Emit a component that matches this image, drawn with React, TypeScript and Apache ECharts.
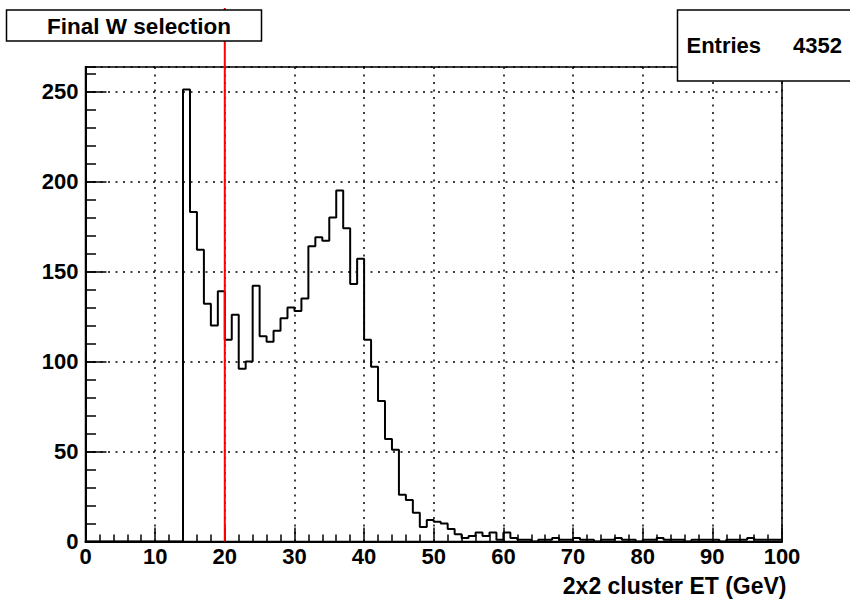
import React, { useEffect, useRef } from "react";
import * as echarts from "echarts";

// ---- data ----
const xMin = 0;
const xMax = 100;
const binWidth = 1;
const counts: number[] = [
  0, 0, 0, 0, 0, 0, 0, 0, 0, 0,
  0, 0, 0, 0, 251, 183, 162, 132, 120, 139,
  112, 126, 96, 100, 142, 114, 111, 117, 124, 130,
  128, 135, 164, 169, 167, 180, 195, 174, 143, 157,
  112, 97, 78, 57, 51, 26, 23, 16, 8, 12,
  11, 10, 7, 4, 2, 3, 5, 3, 5, 1,
  5, 2, 1, 1, 0, 1, 1, 2, 1, 1,
  2, 1, 1, 0, 1, 1, 2, 1, 1, 0,
  1, 1, 2, 1, 1, 1, 0, 1, 1, 1,
  1, 0, 1, 1, 1, 2, 1, 1, 1, 1,
];
const yMajorTicks = [0, 50, 100, 150, 200, 250];
const xMajorTicks = [0, 10, 20, 30, 40, 50, 60, 70, 80, 90, 100];
const cutValue = 20;
const titleText = "Final W selection";
const xTitle = "2x2 cluster ET (GeV)";
const statsLabel = "Entries";
const statsValue = "4352";

const FONT = '"Liberation Sans", Arial, Helvetica, sans-serif';

export default function App() {
  const ref = useRef<HTMLDivElement>(null);

  useEffect(() => {
    if (!ref.current) return;
    const chart = echarts.init(ref.current, undefined, { renderer: "svg" });

    const maxCount = Math.max(...counts);
    const yMax = maxCount * 1.05;

    const stepData: [number, number][] = counts.map((c, i) => [xMin + i * binWidth, c]);
    stepData.push([xMax, counts[counts.length - 1]]);

    const labelStyle = {
      color: "#000",
      fontFamily: FONT,
      fontWeight: "bold" as const,
      fontSize: 22,
    };

    const option: any = {
      animation: false,
      backgroundColor: "#fff",
      grid: {
        left: 85.5,
        top: 67,
        width: 696.5,
        height: 474.5,
        show: true,
        borderColor: "#000",
        borderWidth: 1.5,
        backgroundColor: "transparent",
        containLabel: false,
      },
      xAxis: {
        type: "value",
        min: xMin,
        max: xMax,
        interval: 10,
        axisLine: { show: true, lineStyle: { color: "#000", width: 2 } },
        axisTick: { show: true, inside: true, length: 14, lineStyle: { color: "#000", width: 1.5 } },
        minorTick: { show: true, splitNumber: 5, length: 7, lineStyle: { color: "#000", width: 1.5 } },
        splitLine: { show: true, lineStyle: { color: "#000", type: [2, 5.5], width: 1.5 } },
        axisLabel: {
          ...labelStyle,
          margin: 4,
          showMinLabel: true,
          showMaxLabel: true,
          formatter: (v: number) => (xMajorTicks.includes(v) ? String(v) : ""),
        },
      },
      yAxis: [
        {
          type: "value",
          min: 0,
          max: yMax,
          interval: 50,
          position: "left",
          axisLine: { show: true, lineStyle: { color: "#000", width: 2 } },
          axisTick: { show: true, inside: true, length: 21, lineStyle: { color: "#000", width: 1.5 } },
          splitLine: { show: true, lineStyle: { color: "#000", type: [2, 5.5], width: 1.5 } },
          axisLabel: {
            ...labelStyle,
            margin: 7,
            showMaxLabel: false,
            formatter: (v: number) => (yMajorTicks.includes(v) ? String(v) : ""),
          },
        },
        {
          type: "value",
          min: 0,
          max: yMax,
          interval: 10,
          position: "left",
          offset: 0,
          axisLine: { show: false },
          axisTick: { show: true, inside: true, length: 10.5, lineStyle: { color: "#000", width: 1.5 } },
          splitLine: { show: false },
          axisLabel: { show: false },
        },
      ],
      series: [
        {
          type: "line",
          yAxisIndex: 0,
          step: "end",
          data: stepData,
          showSymbol: false,
          symbol: "none",
          lineStyle: { color: "#000", width: 2 },
          z: 3,
        },
      ],
    };

    chart.setOption(option);

    const xCut = chart.convertToPixel({ xAxisIndex: 0 }, cutValue) as number;
    const yZero = chart.convertToPixel({ yAxisIndex: 0 }, 0) as number;
    const xRight = chart.convertToPixel({ xAxisIndex: 0 }, xMax) as number;

    chart.setOption({
      graphic: [
        {
          type: "line",
          z: 50,
          shape: { x1: xCut, y1: 8, x2: xCut, y2: yZero },
          style: { stroke: "#ff0000", lineWidth: 2 },
        },
        {
          type: "group",
          z: 100,
          children: [
            {
              type: "rect",
              z: 100,
              shape: { x: 6.5, y: 10, width: 255, height: 31 },
              style: { fill: "#fff", stroke: "#000", lineWidth: 1.5 },
            },
            {
              type: "text",
              z: 101,
              style: {
                text: titleText,
                x: 139,
                y: 26,
                align: "center",
                verticalAlign: "middle",
                fill: "#000",
                font: `bold 22.5px ${FONT}`,
              },
            },
          ],
        },
        {
          type: "group",
          z: 100,
          children: [
            {
              type: "rect",
              z: 100,
              shape: { x: 677.5, y: 10, width: 180, height: 71 },
              style: { fill: "#fff", stroke: "#000", lineWidth: 1.5 },
            },
            {
              type: "text",
              z: 101,
              style: {
                text: statsLabel,
                x: 686.5,
                y: 45,
                align: "left",
                verticalAlign: "middle",
                fill: "#000",
                font: `bold 22px ${FONT}`,
              },
            },
            {
              type: "text",
              z: 101,
              style: {
                text: statsValue,
                x: 842,
                y: 45,
                align: "right",
                verticalAlign: "middle",
                fill: "#000",
                font: `bold 22px ${FONT}`,
              },
            },
          ],
        },
        {
          type: "text",
          z: 100,
          style: {
            text: xTitle,
            x: xRight + 4.5,
            y: 586,
            align: "right",
            verticalAlign: "middle",
            fill: "#000",
            font: `bold 23px ${FONT}`,
          },
        },
      ],
    });

    return () => {
      chart.dispose();
    };
  }, []);

  return (
    <div
      ref={ref}
      style={{ position: "fixed", left: 0, top: 0, width: 850, height: 600, background: "#fff" }}
    />
  );
}
